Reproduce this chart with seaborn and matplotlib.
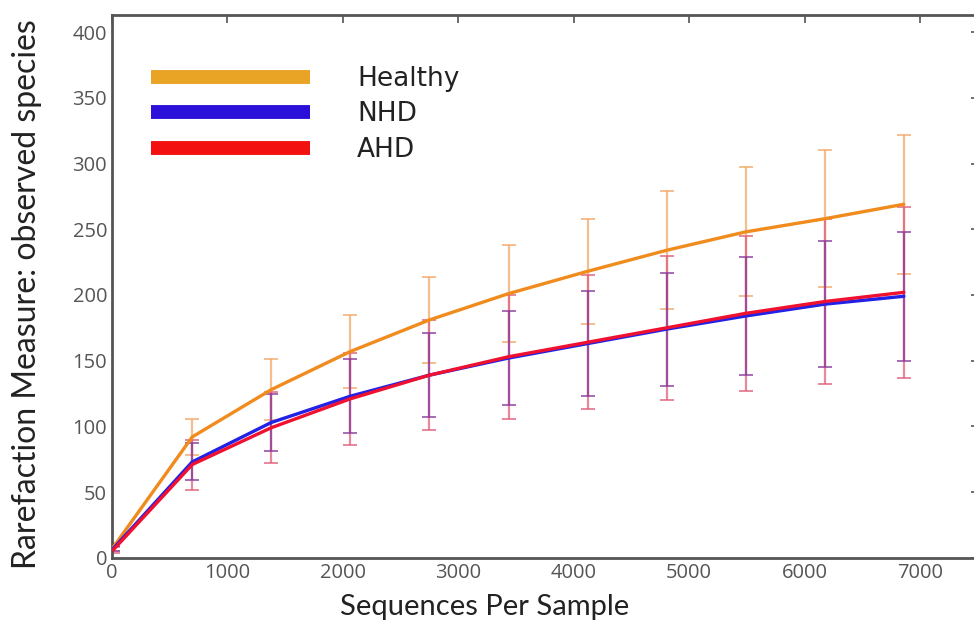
import matplotlib
matplotlib.use("Agg")
import matplotlib.pyplot as plt
import seaborn as sns
import pandas as pd
import numpy as np
from matplotlib.lines import Line2D

# ---- data ----
seqs = [10, 695, 1380, 2065, 2750, 3435, 4120, 4805, 5490, 6175, 6860]
groups = ["Healthy", "NHD", "AHD"]
healthy_mean = [8, 92, 128, 157, 181, 201, 218, 234, 248, 258, 269]
healthy_err = [3, 14, 23, 28, 33, 37, 40, 45, 49, 52, 53]
nhd_mean = [7, 73, 103, 123, 139, 152, 163, 174, 184, 193, 199]
nhd_err = [2, 14, 22, 28, 32, 36, 40, 43, 45, 48, 49]
ahd_mean = [6, 71, 99, 121, 139, 153, 164, 175, 186, 195, 202]
ahd_err = [2, 19, 27, 35, 42, 47, 51, 55, 59, 63, 65]

line_colors = {"Healthy": "#F08C1E", "NHD": "#2222E6", "AHD": "#F01030"}
legend_colors = {"Healthy": "#E9A426", "NHD": "#2A10D8", "AHD": "#F21010"}
bar_colors = {"Healthy": "#F2A868", "NHD": "#8A3A9A", "AHD": "#E0607A"}

df = pd.DataFrame({
    "seq": seqs * 3,
    "val": healthy_mean + nhd_mean + ahd_mean,
    "err": healthy_err + nhd_err + ahd_err,
    "group": ["Healthy"] * len(seqs) + ["NHD"] * len(seqs) + ["AHD"] * len(seqs),
})

sns.set_style("white")
plt.rcParams["font.family"] = ["Open Sans", "DejaVu Sans"]

fig = plt.figure(figsize=(9.74, 6.24), dpi=100)
ax = fig.add_axes([0.115, 0.106, 0.89, 0.87])

# error bars
for g in ["Healthy", "AHD", "NHD"]:
    sub = df[df.group == g]
    ax.errorbar(sub.seq, sub.val, yerr=sub.err, fmt="none", ecolor=bar_colors[g],
                elinewidth=1.6, capsize=5, capthick=1.4, alpha=0.75, zorder=2)

sns.lineplot(data=df, x="seq", y="val", hue="group", hue_order=["Healthy", "NHD", "AHD"],
             palette=line_colors, linewidth=2.4, ax=ax, legend=False, zorder=3,
             estimator=None, sort=False)

ax.set_xlim(0, 7510)
ax.set_ylim(0, 413)
ax.set_xticks(range(0, 8000, 1000))
ax.set_yticks(range(0, 401, 50))
ax.tick_params(axis="both", direction="in", length=6, width=1.2, colors="#555555",
               labelsize=14.5, top=True, right=True, labelcolor="#555555")
for sp in ax.spines.values():
    sp.set_color("#555555")
    sp.set_linewidth(2)

ax.set_xlabel("Sequences Per Sample", fontsize=21, family=["Lato", "DejaVu Sans"],
              color="#222222")
ax.set_ylabel("Rarefaction Measure: observed species", fontsize=23,
              family=["Lato", "DejaVu Sans"], color="#222222")
ax.xaxis.set_label_coords(0.43, -0.066)
ax.yaxis.set_label_coords(-0.081, 0.485)

handles = [Line2D([0], [0], color=legend_colors[g], lw=10, solid_capstyle="butt") for g in groups]
leg = ax.legend(handles, groups, loc="upper left", bbox_to_anchor=(0.018, 0.95), frameon=False,
                handlelength=6.0, handletextpad=1.8, fontsize=19, labelspacing=0.36)
for t in leg.get_texts():
    t.set_family(["DejaVu Sans"])
    t.set_color("#222222")

fig.savefig("out.png", dpi=100)
